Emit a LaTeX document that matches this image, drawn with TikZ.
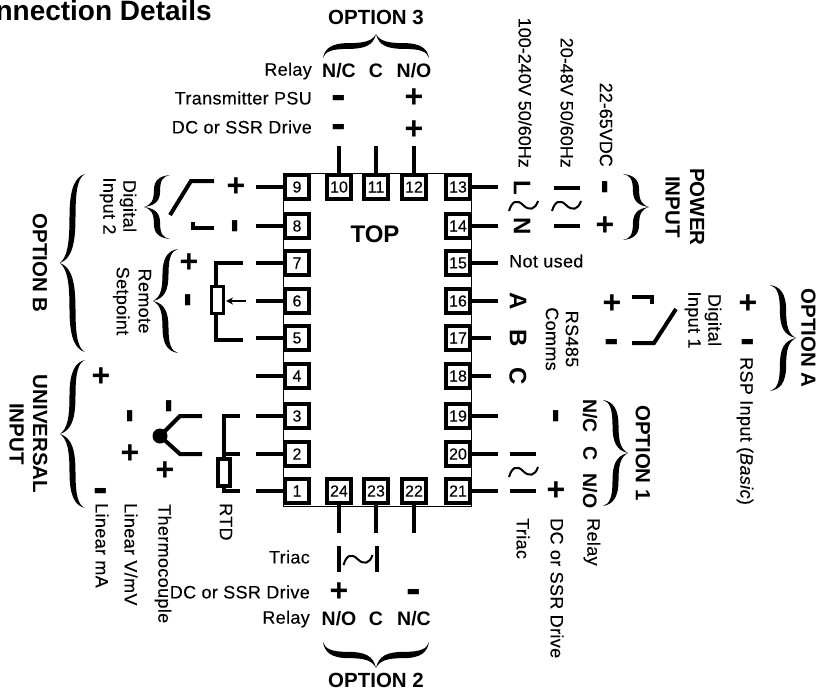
\documentclass[tikz,border=0pt]{standalone}
\usepackage{fontspec}
\setmainfont{Liberation Sans}
\newfontfamily\spc[LetterSpace=2,FakeBold=0.15]{Liberation Sans}
\newfontfamily\nsp[FakeBold=0.15]{Liberation Sans}
\usetikzlibrary{arrows.meta}
\newcommand\sz[1]{\fontsize{#1}{#1}\selectfont}
\newcommand\mns{\raisebox{-.265em}[0pt][0pt]{-}}
% filled curly brace: tip position x,y; rotation; half length; depth
\newcommand\curly[5]{%
 \fill[shift={(#1,#2)},rotate=#3]
  (#5,-#4) .. controls (.62*#5,-.97*#4) and (.38*#5,-.85*#4) .. (.38*#5,-.52*#4)
  .. controls (.38*#5,-.2*#4) and (.28*#5,-.07*#4) .. (0,0)
  .. controls (.28*#5,.07*#4) and (.38*#5,.2*#4) .. (.38*#5,.52*#4)
  .. controls (.38*#5,.85*#4) and (.62*#5,.97*#4) .. (#5,#4)
  .. controls (.74*#5,.96*#4) and (.62*#5,.85*#4) .. (.62*#5,.52*#4)
  .. controls (.62*#5,.22*#4) and (.48*#5,.05*#4) .. (0,0)
  .. controls (.48*#5,-.05*#4) and (.62*#5,-.22*#4) .. (.62*#5,-.52*#4)
  .. controls (.62*#5,-.85*#4) and (.74*#5,-.96*#4) .. (#5,-#4) -- cycle;}
\newcommand\wave[2]{%
 \draw[line width=2pt,shift={(#1,#2)}] (0,4) .. controls (3,-6) and (8,-8) .. (14,-2)
   .. controls (20,4) and (26,3) .. (29,-6);}
\tikzset{
 term/.style={draw,line width=4pt,fill=white,minimum size=24pt,inner sep=0pt,font=\sz{16}\nsp},
 stub/.style={line width=4.5pt},
 wire/.style={line width=4pt},
 lab/.style={inner sep=0pt,font=\sz{18}\spc},
 plain/.style={inner sep=0pt,font=\sz{18}\nsp},
 bld/.style={inner sep=0pt,font=\sz{19.5}\bfseries},
 big/.style={inner sep=0pt,font=\sz{24}\bfseries},
 ttl/.style={inner sep=0pt,font=\sz{20.5}\bfseries,align=center},
 sg/.style={inner sep=0pt,font=\sz{32}\bfseries},
 mn/.style={inner sep=0pt,font=\sz{44}\bfseries},
 vt/.style={rotate=-90},
 two/.style={align=center,rotate=-90}
}
\begin{document}
\begin{tikzpicture}[x=1pt,y=-1pt]
\useasboundingbox (0,0) rectangle (816,693);
\node[draw,line width=1pt,minimum width=188pt,minimum height=333pt,inner sep=0pt] (body) at (377.5,339.5) {};
\foreach \n/\y/\e in {9/187/256,8/226/256,7/263/256,6/301/256,5/338/256,4/376/256,3/416/256,2/454/256,1/491/256}{
  \node[term] (t\n) at (297,\y) {\n};
  \coordinate (s\n) at (\e,\y);
  \draw[stub] (t\n.west) -- (s\n);
}
\foreach \n/\y/\e in {13/187/498,14/226/498,15/263/498,16/301/498,17/338/491,18/376/491,19/416/498,20/454/498,21/491/498}{
  \node[term] (t\n) at (458,\y) {\n};
  \coordinate (s\n) at (\e,\y);
  \draw[stub] (t\n.east) -- (s\n);
}
\foreach \n/\x in {10/339,11/376,12/414}{
  \node[term] (t\n) at (\x,187) {\n};
  \coordinate (s\n) at (\x,146);
  \draw[stub] (t\n.north) -- (s\n);
}
\foreach \n/\x in {24/339,23/376,22/414}{
  \node[term] (t\n) at (\x,491) {\n};
  \coordinate (s\n) at (\x,533);
  \draw[stub] (t\n.south) -- (s\n);
}
\node[inner sep=0pt,font=\sz{24}\bfseries] (top) at (375,234) {TOP};
\node[inner sep=0pt,anchor=east,font=\sz{28}\bfseries] (title) at (212,10) {nnection Details};

% option 3
\node[ttl] (opt3) at (376,17) {OPTION 3};
\curly{376}{34}{-90}{53}{24}
\node[lab,anchor=east] (l3a) at (312,71) {Relay};
\node[lab,anchor=east] (l3b) at (312,98) {Transmitter PSU};
\node[lab,anchor=east] (l3c) at (312,127) {DC or SSR Drive};
\node[bld] (nc3) at (339,71) {N/C};
\node[bld] (c3) at (376,71) {C};
\node[bld] (no3) at (414,71) {N/O};
\node[mn] (m3a) at (339,98) {\mns};
\node[mn] (m3b) at (339,127) {\mns};
\node[sg] (p3a) at (414,98) {+};
\node[sg] (p3b) at (414,130) {+};

% option 2
\node[ttl] (opt2) at (376,680) {OPTION 2};
\curly{376}{668}{90}{53}{26}
\node[lab,anchor=east] (l2a) at (310,557) {Triac};
\node[lab,anchor=east] (l2b) at (310,592) {DC or SSR Drive};
\node[lab,anchor=east] (l2c) at (310,619) {Relay};
\node[bld] (no2) at (339,619) {N/O};
\node[bld] (c2) at (376,619) {C};
\node[bld] (nc2) at (414,619) {N/C};
\node[sg] (p2) at (339,592) {+};
\node[mn] (m2) at (414,592) {\mns};
\draw[wire] (339,546) -- (339,572);
\draw[wire] (377,546) -- (377,572);
\wave{343.5}{561}

% option B
\node[ttl,rotate=-90] (optb) at (40,263) {OPTION B};
\curly{60}{263}{0}{89}{25}
\node[lab,two] (di2) at (118,206) {Digital\\[2pt]Input 2};
\curly{144}{207}{0}{32}{26}
\draw[wire] (170,215) -- (191,181) -- (214,181);
\draw[wire] (193,222) -- (193,228) -- (214,228);
\node[sg] (p9) at (236,187) {+};
\node[mn,rotate=90] (m8) at (235,226) {\mns};
\node[lab,two] (rs) at (132,301) {Remote\\[4pt]Setpoint};
\curly{153}{301}{0}{52}{25}
\node[sg] (p7) at (189,263) {+};
\node[mn,rotate=90] (m6) at (188,300) {\mns};
\draw[wire] (243,263) -- (216,263) -- (216,286);
\draw[wire] (216,313) -- (216,340) -- (243,340);
\draw[line width=3pt] (211,286) rectangle (223,313);
\draw[line width=2.5pt,-{Stealth[length=7pt,width=7pt]}] (246,301) -- (226,301);

% universal input
\node[ttl,two] (ui) at (28.5,434) {UNIVERSAL\\[3pt]INPUT};
\curly{60}{434}{0}{74}{25}
\node[sg] (pa) at (101,377) {+};
\node[mn,rotate=90] (ma) at (130,416) {\mns};
\node[sg] (pb) at (130,454) {+};
\node[mn] (mb) at (101,491) {\mns};
\node[mn,rotate=90] (mc) at (169,406) {\mns};
\node[sg] (pc) at (165,471) {+};
\node[circle,fill,minimum size=15pt,inner sep=0pt] (tc) at (160,436) {};
\draw[wire] (tc.center) -- (180,416) -- (202,416);
\draw[wire] (tc.center) -- (180,454) -- (202,454);
\draw[wire] (240,416) -- (224,416) -- (224,458);
\draw[wire] (224,454) -- (240,454);
\draw[wire] (224,487) -- (224,491) -- (240,491);
\draw[line width=3.5pt] (218,459) rectangle (230,486);
\node[lab,vt,anchor=west] (lrtd) at (226,503) {RTD};
\node[lab,vt,anchor=west] (ltc) at (163,504) {Thermocouple};
\node[lab,vt,anchor=west] (lv) at (131,503) {Linear V/mV};
\node[lab,vt,anchor=west] (lma) at (102,503) {Linear mA};

% power input
\node[plain,vt,anchor=east] (v1) at (525,168) {100-240V 50/60Hz};
\node[plain,vt,anchor=east] (v2) at (567,168) {20-48V 50/60Hz};
\node[plain,vt,anchor=east] (v3) at (606,167) {22-65VDC};
\node[big,vt] (ll) at (522,188) {L};
\node[big,vt] (nn) at (522,226) {N};
\wave{509}{207}
\wave{552}{207}
\draw[wire] (554,188) -- (580,188);
\draw[wire] (554,226) -- (580,226);
\node[mn,rotate=90] (m13) at (605,187) {\mns};
\node[sg] (p14) at (605,226) {+};
\curly{649}{207}{180}{33}{26}
\node[ttl,two] (pi) at (685,207) {POWER\\[4pt]INPUT};
\node[lab,anchor=west] (nu) at (509,261) {Not used};

% RS485 and option A
\node[big,vt] (aa) at (518,301) {A};
\node[big,vt] (bb) at (518,338) {B};
\node[big,vt] (cc) at (518,376) {C};
\node[lab,two] (rs485) at (562,339) {RS485\\[2pt]Comms};
\node[sg] (p16) at (612,304) {+};
\node[mn] (m17) at (612,342) {\mns};
\draw[wire] (632,297) -- (652,297) -- (652,304);
\draw[wire] (632,343) -- (654,343) -- (676,309);
\node[lab,two] (di1) at (703,320) {Digital\\[2pt]Input 1};
\node[sg] (pA) at (748,304) {+};
\node[mn] (mA) at (748,342) {\mns};
\node[lab,vt,anchor=west] (rsp) at (745,357) {RSP Input (\textit{Basic})};
\curly{796}{338}{180}{53}{26}
\node[ttl,vt] (opta) at (808.5,338) {OPTION A};

% option 1
\node[mn,rotate=90] (m19) at (556,416) {\mns};
\draw[wire] (510,454) -- (536,454);
\draw[wire] (510,491) -- (536,491);
\wave{509}{473}
\node[sg] (p21) at (556,491) {+};
\node[bld,vt] (nc1) at (590,416) {N/C};
\node[bld,vt] (c1) at (590,454) {C};
\node[bld,vt] (no1) at (590,491) {N/O};
\curly{628}{453}{180}{53}{25}
\node[ttl,vt] (opt1) at (643,453) {OPTION 1};
\node[lab,vt,anchor=west] (tr1) at (523,518) {Triac};
\node[lab,vt,anchor=west] (dc1) at (557,518) {DC or SSR Drive};
\node[lab,vt,anchor=west] (re1) at (592,518) {Relay};
\end{tikzpicture}
\end{document}
